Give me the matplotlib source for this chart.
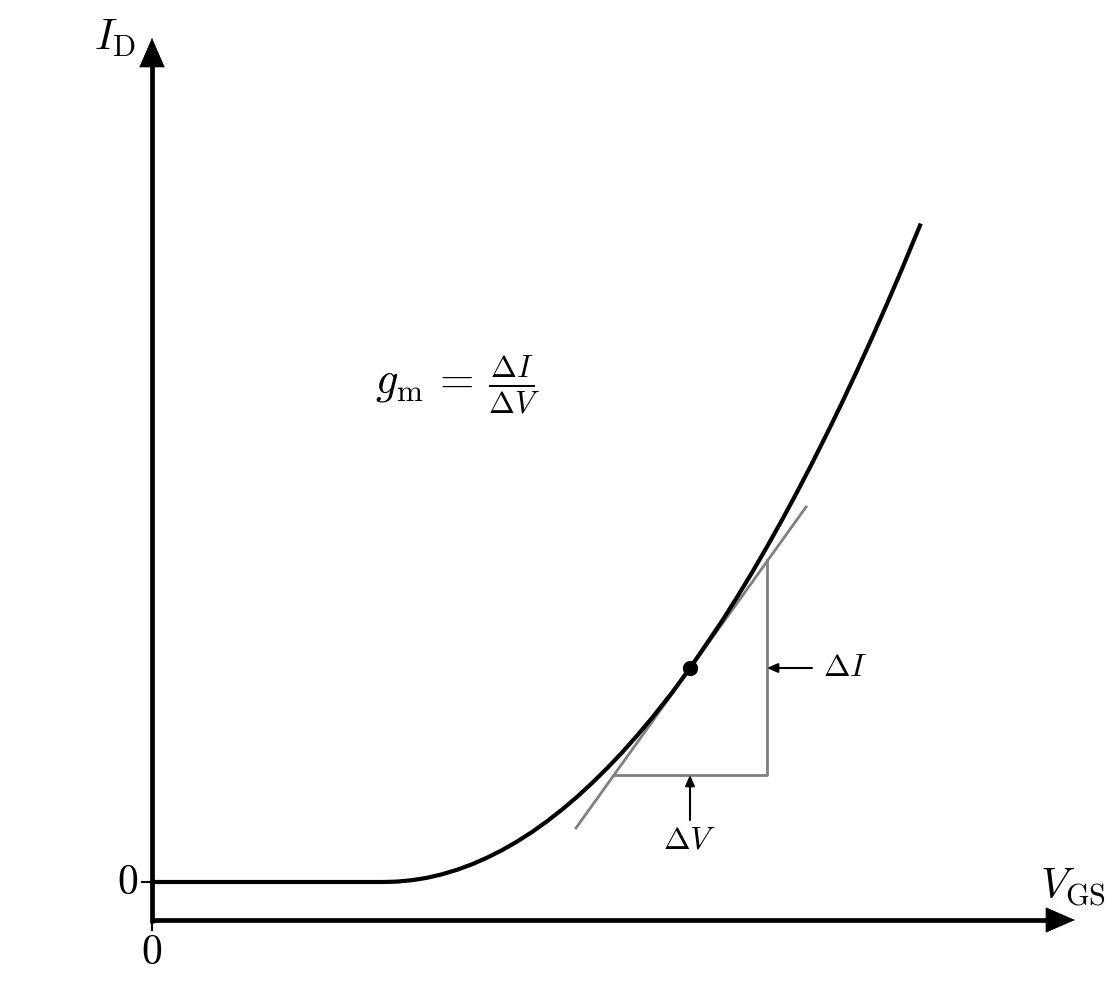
import matplotlib
matplotlib.use("Agg")
import matplotlib.pyplot as plt

plt.rcParams['mathtext.fontset'] = 'cm'
plt.rcParams['font.family'] = ['DejaVu Serif']

# Curve (V_GS, I_D) in arbitrary units
v_flat = [0.0, 2.32]
i_flat = [0.0, 0.0]
v_curve = [2.32, 2.45, 2.6, 2.75, 2.9, 3.05, 3.2, 3.35, 3.5, 3.65, 3.8, 3.95, 4.1, 4.25, 4.4,
           4.55, 4.7, 4.85, 5.0, 5.2, 5.38, 5.55, 5.7, 5.85, 6.0, 6.15, 6.3, 6.45, 6.6,
           6.75, 6.9, 7.05, 7.2, 7.35, 7.5, 7.68]
i_curve = [0.0, 0.004, 0.018, 0.042, 0.077, 0.122, 0.177, 0.243, 0.318, 0.404, 0.500,
           0.607, 0.724, 0.851, 0.989, 1.137, 1.294, 1.463, 1.641, 1.893, 2.140, 2.388,
           2.610, 2.847, 3.094, 3.352, 3.620, 3.898, 4.186, 4.485, 4.793, 5.113, 5.442,
           5.782, 6.131, 6.565]
op_v, op_i = 5.38, 2.14
tangent_v = [4.24, 6.54]
tangent_i = [0.54, 3.75]
tri_v = [4.63, 6.15, 6.15]
tri_i = [1.07, 1.07, 3.22]
axis_v0, axis_i0 = 0.0, -0.38
axis_vmax, axis_imax = 9.23, 8.44

fig = plt.figure(figsize=(11.13, 9.98), dpi=100)
ax = fig.add_axes([0, 0, 1, 1])
ax.set_xlim(-1.52, 9.61)
ax.set_ylim(-1.16, 8.82)
ax.axis('off')

# axes with arrows
ax.plot([axis_v0, axis_vmax - 0.2], [axis_i0, axis_i0], color='black', lw=3.4, solid_capstyle='butt')
ax.plot([axis_v0, axis_v0], [axis_i0 - 0.025, axis_imax - 0.2], color='black', lw=3.4, solid_capstyle='butt')
ax.annotate('', xy=(axis_vmax, axis_i0), xytext=(axis_vmax - 0.3, axis_i0),
            arrowprops=dict(arrowstyle='-|>,head_length=0.92,head_width=0.4', color='black', lw=0.5,
                            mutation_scale=22, shrinkA=0, shrinkB=0))
ax.annotate('', xy=(axis_v0, axis_imax), xytext=(axis_v0, axis_imax - 0.3),
            arrowprops=dict(arrowstyle='-|>,head_length=0.92,head_width=0.4', color='black', lw=0.5,
                            mutation_scale=22, shrinkA=0, shrinkB=0))

# ticks
ax.plot([axis_v0 - 0.1, axis_v0], [0, 0], color='black', lw=1.5)
ax.plot([axis_v0, axis_v0], [axis_i0, axis_i0 - 0.1], color='black', lw=1.5)
ax.text(axis_v0 - 0.14, 0, '$0$', fontsize=30, ha='right', va='center')
ax.text(axis_v0, axis_i0 - 0.11, '$0$', fontsize=30, ha='center', va='top')

# axis labels
ax.text(-0.37, 8.44, r'$I_{\rm D}$', fontsize=31, ha='center', va='center')
ax.text(9.21, -0.06, r'$V_{\rm GS}$', fontsize=31, ha='center', va='center')

# tangent & triangle
ax.plot(tangent_v, tangent_i, color='#808080', lw=2.0)
ax.plot(tri_v, tri_i, color='#808080', lw=2.0)

# curve
ax.plot(v_flat + v_curve, i_flat + i_curve, color='black', lw=3.0, solid_joinstyle='round')
ax.plot([op_v], [op_i], 'o', color='black', markersize=10)

# delta arrows
small = '-|>,head_length=0.45,head_width=0.2'
ax.annotate('', xy=(6.15, op_i), xytext=(6.6, op_i),
            arrowprops=dict(arrowstyle=small, color='black', lw=1.5,
                            mutation_scale=14, shrinkA=0, shrinkB=0))
ax.text(6.93, op_i, r'$\Delta I$', fontsize=23, ha='center', va='center')
ax.annotate('', xy=(op_v, 1.07), xytext=(op_v, 0.62),
            arrowprops=dict(arrowstyle=small, color='black', lw=1.5,
                            mutation_scale=14, shrinkA=0, shrinkB=0))
ax.text(op_v, 0.42, r'$\Delta V$', fontsize=23, ha='center', va='center')

ax.text(3.05, 4.97, r'$g_{\rm m}\,=\,\frac{\Delta I}{\Delta V}$', fontsize=32, ha='center', va='center')

fig.savefig('out.png', dpi=100)
